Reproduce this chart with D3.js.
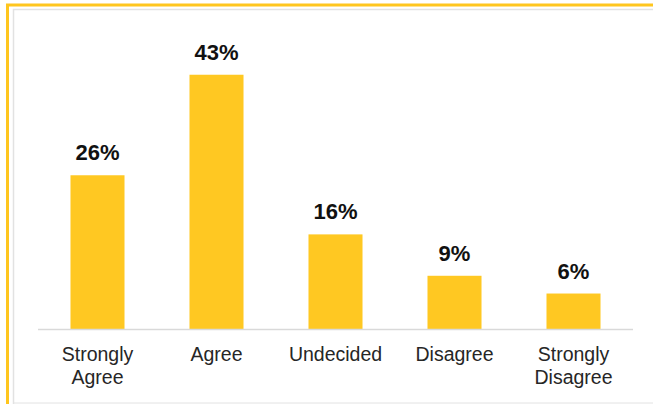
<!DOCTYPE html>
<html>
<head>
<meta charset="utf-8">
<script src="https://cdn.jsdelivr.net/npm/d3@7"></script>
<style>
  html, body { margin: 0; padding: 0; background: #fff; }
  svg { display: block; }
</style>
</head>
<body>
<svg id="chart" width="653" height="404"></svg>
<script>
// Survey responses (percent of respondents)
const categories = [["Strongly", "Agree"], ["Agree"], ["Undecided"], ["Disagree"], ["Strongly", "Disagree"]];
const values = [26, 43, 16, 9, 6];

const svg = d3.select("#chart");
const W = 653, H = 404;

// Frame: yellow outer edge on top/left, light grey inner edge
svg.append("path")
  .attr("d", `M7.5,${H} L7.5,5 L${W},5`)
  .attr("fill", "none").attr("stroke", "#FFC61E").attr("stroke-width", 3);
svg.append("path")
  .attr("d", `M13.5,${H} L13.5,9.5 L${W},9.5`)
  .attr("fill", "none").attr("stroke", "#E2E2E2").attr("stroke-width", 1.5);
svg.append("line")
  .attr("x1", 14).attr("x2", W).attr("y1", 403).attr("y2", 403)
  .attr("stroke", "#E2E2E2").attr("stroke-width", 1);

const left = 38, right = 633, baseY = 329;
const keys = categories.map((c, i) => i);

const x = d3.scaleBand().domain(keys).range([left, right])
  .paddingInner(0.546).paddingOuter(0.273);
const y = d3.scaleLinear().domain([0, 43]).range([baseY, baseY - 43 * 5.913]);

// bars
svg.append("g").selectAll("rect").data(values).join("rect")
  .attr("x", (d, i) => x(i))
  .attr("width", x.bandwidth())
  .attr("y", d => y(d))
  .attr("height", d => baseY - y(d))
  .attr("fill", "#FFC822");

// baseline
svg.append("line")
  .attr("x1", left).attr("x2", right)
  .attr("y1", baseY + 0.5).attr("y2", baseY + 0.5)
  .attr("stroke", "#D9D9D9").attr("stroke-width", 1.5);

// value labels
svg.append("g").selectAll("text").data(values).join("text")
  .attr("x", (d, i) => x(i) + x.bandwidth() / 2)
  .attr("y", d => y(d) - 15)
  .attr("text-anchor", "middle")
  .attr("font-family", "'Liberation Sans', Arial, sans-serif")
  .attr("font-weight", "bold")
  .attr("font-size", 22)
  .attr("fill", "#111")
  .text(d => d + "%");

// category labels
const cat = svg.append("g").selectAll("text").data(categories).join("text")
  .attr("x", (d, i) => x(i) + x.bandwidth() / 2)
  .attr("y", 361)
  .attr("text-anchor", "middle")
  .attr("font-family", "'Liberation Sans', Arial, sans-serif")
  .attr("font-size", 19.5)
  .attr("fill", "#262626");
cat.selectAll("tspan").data(d => d).join("tspan")
  .attr("x", function() { return d3.select(this.parentNode).attr("x"); })
  .attr("dy", (d, j) => j === 0 ? 0 : 23)
  .text(d => d);
</script>
</body>
</html>
